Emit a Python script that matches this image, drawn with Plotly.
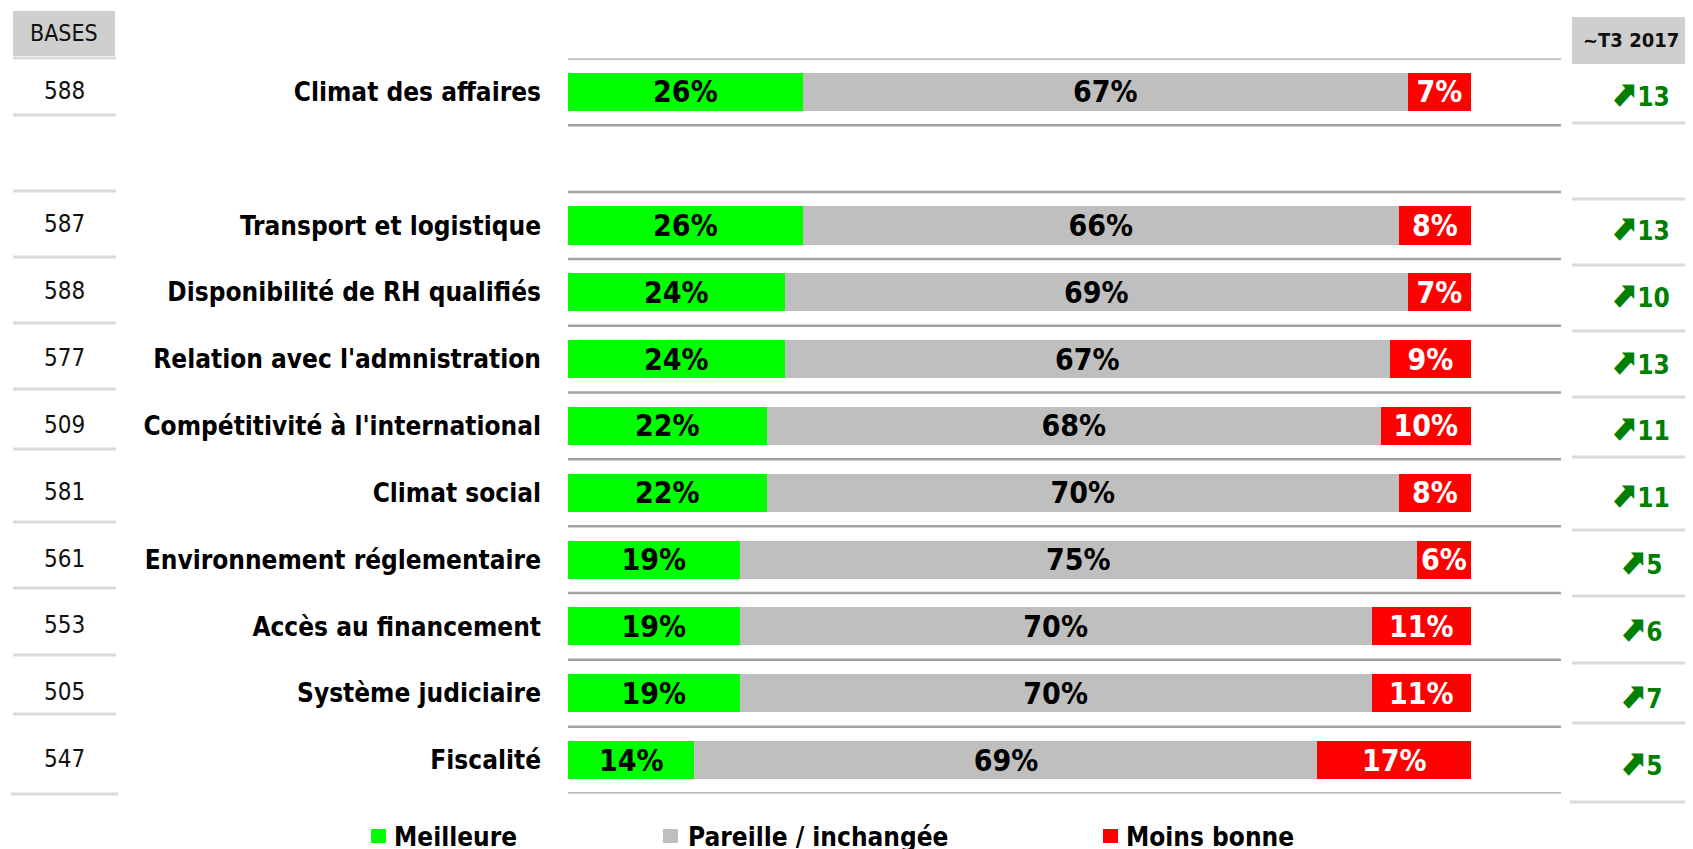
import plotly.graph_objects as go

# ---------------- data ----------------
categories = [
    "Climat des affaires",
    "Transport et logistique",
    "Disponibilité de RH qualifiés",
    "Relation avec l'admnistration",
    "Compétitivité à l'international",
    "Climat social",
    "Environnement réglementaire",
    "Accès au financement",
    "Système judiciaire",
    "Fiscalité",
]
bases = [588, 587, 588, 577, 509, 581, 561, 553, 505, 547]
meilleure = [26, 26, 24, 24, 22, 22, 19, 19, 19, 14]
pareille = [67, 66, 69, 67, 68, 70, 75, 70, 70, 69]
moins_bonne = [7, 8, 7, 9, 10, 8, 6, 11, 11, 17]
evolution = [13, 13, 10, 13, 11, 11, 5, 6, 7, 5]
series_names = ["Meilleure", "Pareille / inchangée", "Moins bonne"]
base_header = "BASES"
evol_header = "~T3 2017"

# ---------------- styles ----------------
W, H = 1693, 849
OFF = 8  # page body margin offset
FONT = "DejaVu Sans Condensed, DejaVu Sans, sans-serif"
series_values = [meilleure, pareille, moins_bonne]
series_colors = ["#00ff00", "#bfbfbf", "#ff0000"]
label_colors = ["#000000", "#000000", "#ffffff"]
# separator lines of the side tables (page pixels)
left_rules = [58, 115, 191, 257, 323, 389, 449, 522, 588, 655, 714, 794]
right_rules = [123, 199, 265, 331, 397, 457, 530, 596, 663, 723, 802]


def px(x):
    return (x - OFF) / W


def py(y):
    return 1 - (y - OFF) / H


# first item stands alone, followed by one blank slot
rows = [0] + list(range(2, len(categories) + 1))
n_slots = rows[-1] + 1

fig = go.Figure()
for name, vals, col, lcol in zip(series_names, series_values, series_colors, label_colors):
    fig.add_trace(go.Bar(
        name=name, x=vals, y=rows, orientation="h", width=0.57,
        marker=dict(color=col, line=dict(width=0)),
        text=[f"{v}%" for v in vals], textposition="inside",
        insidetextanchor="middle", textangle=0, constraintext="none",
        textfont=dict(family=FONT, size=30, color=lcol, weight=700),
        hoverinfo="skip", showlegend=False,
    ))

shapes = []
annotations = []
bounds = [r - 0.5 for r in range(n_slots + 1)]
for b in bounds:
    shapes.append(dict(type="line", xref="paper", yref="y", x0=px(568), x1=px(1561),
                       y0=b, y1=b, line=dict(color="#a3a3a3", width=2.5)))
for i, yy in enumerate(left_rules):
    last = i == len(left_rules) - 1
    shapes.append(dict(type="line", xref="paper", yref="paper",
                       x0=px(11 if last else 13), x1=px(118 if last else 116),
                       y0=py(yy), y1=py(yy), line=dict(color="#dadada", width=3)))
for i, yy in enumerate(right_rules):
    last = i == len(right_rules) - 1
    shapes.append(dict(type="line", xref="paper", yref="paper",
                       x0=px(1570 if last else 1572), x1=px(1693),
                       y0=py(yy), y1=py(yy), line=dict(color="#dadada", width=3)))

# header boxes
shapes.append(dict(type="rect", xref="paper", yref="paper", x0=px(13), x1=px(115),
                   y0=py(56), y1=py(11), fillcolor="#cfcfcf", line=dict(width=0)))
shapes.append(dict(type="rect", xref="paper", yref="paper", x0=px(1572), x1=px(1693),
                   y0=py(64), y1=py(17), fillcolor="#cfcfcf", line=dict(width=0)))
annotations.append(dict(text=base_header, xref="paper", yref="paper", x=px(64), y=py(33),
                        xanchor="center", yanchor="middle", showarrow=False,
                        font=dict(family=FONT, size=23, color="#111111")))
annotations.append(dict(text=evol_header, xref="paper", yref="paper", x=px(1631), y=py(40),
                        xanchor="center", yanchor="middle", showarrow=False,
                        font=dict(family=FONT, size=20, color="#111111", weight=700)))

for r, b, e in zip(rows, bases, evolution):
    annotations.append(dict(text=str(b), xref="paper", yref="y", x=px(64), y=r, yshift=1,
                            xanchor="center", yanchor="middle", showarrow=False,
                            font=dict(family=FONT, size=24, color="#111111")))
    annotations.append(dict(text=f"<span style='font-size:36px'>⬈</span>{e}",
                            xref="paper", yref="y", x=px(1640), y=r, yshift=-2,
                            xanchor="center", yanchor="middle", showarrow=False,
                            font=dict(family=FONT, size=26, color="#008000", weight=700)))

# legend
sq_left = [371, 663, 1103]
txt_left = [392, 686, 1124]
for name, col, sx, tx in zip(series_names, series_colors, sq_left, txt_left):
    shapes.append(dict(type="rect", xref="paper", yref="paper", x0=px(sx), x1=px(sx + 15),
                       y0=py(843), y1=py(829), fillcolor=col, line=dict(width=0)))
    annotations.append(dict(text=name, xref="paper", yref="paper", x=px(tx), y=py(837),
                            xanchor="left", yanchor="middle", showarrow=False,
                            font=dict(family=FONT, size=26, color="#000000", weight=700)))

fig.update_layout(
    width=W, height=H, barmode="stack", template="none",
    margin=dict(l=0, r=0, t=0, b=0, autoexpand=False),
    paper_bgcolor="white", plot_bgcolor="white",
    xaxis=dict(domain=[px(568), px(1471)], range=[0, 100], visible=False,
               fixedrange=True, automargin=False),
    yaxis=dict(domain=[py(793.5), py(58.4)], range=[n_slots - 0.5, -0.5],
               tickvals=rows, ticktext=categories, showgrid=False, zeroline=False,
               showline=False, ticks="", ticklabelstandoff=26, automargin=False,
               tickfont=dict(family=FONT, size=26, color="#000000", weight=700)),
    shapes=shapes, annotations=annotations, showlegend=False,
)

fig.write_html("out.html")
